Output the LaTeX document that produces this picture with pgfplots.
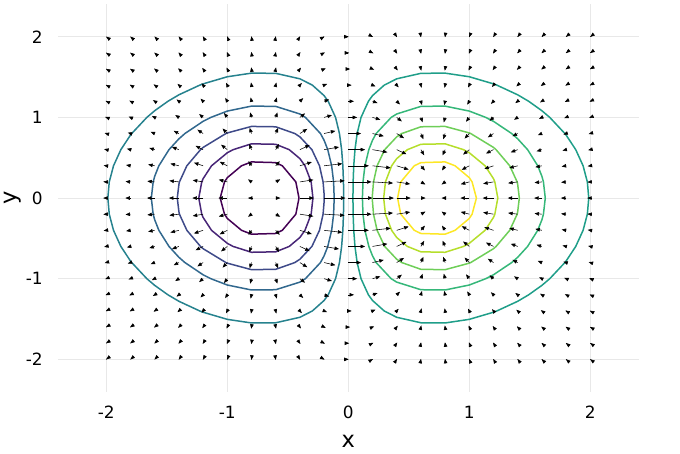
\documentclass[border=0pt]{standalone}
\usepackage{fontspec}
\setmainfont{DejaVu Sans}
\usepackage{pgfplots}
\pgfplotsset{compat=1.18}
\usetikzlibrary{arrows.meta}

% viridis, one colour per contour level
\definecolor{v0}{HTML}{440154}
\definecolor{v1}{HTML}{482677}
\definecolor{v2}{HTML}{3E4A89}
\definecolor{v3}{HTML}{31688E}
\definecolor{v4}{HTML}{26828E}
\definecolor{v5}{HTML}{1F9E89}
\definecolor{v6}{HTML}{35B779}
\definecolor{v7}{HTML}{6ECE58}
\definecolor{v8}{HTML}{B5DE2B}
\definecolor{v9}{HTML}{FDE725}

\begin{document}
\begin{tikzpicture}
\path[use as bounding box] (0,0) rectangle (680pt,453pt);
\begin{axis}[
    at={(57.9pt,61.4pt)}, anchor=south west,
    scale only axis,
    width=580.8pt, height=387.1pt,
    xmin=-2.4, xmax=2.4, ymin=-2.4, ymax=2.4,
    xtick={-2,-1,0,1,2}, ytick={-2,-1,0,1,2},
    xticklabels={-2,-1,0,1,2}, yticklabels={-2,-1,0,1,2},
    grid=major,
    grid style={draw=black!9, line width=0.6pt},
    axis line style={draw=none},
    major tick length=0pt,
    tick label style={font=\fontsize{16.9}{18}\selectfont, inner sep=0pt},
    x tick label style={anchor=north, yshift=-14.4pt},
    y tick label style={anchor=east, xshift=-15pt},
    xlabel={x}, ylabel={y},
    label style={font=\fontsize{22.5}{24}\selectfont, inner sep=0pt},
    xlabel style={at={(axis description cs:0.5,0)}, anchor=base, yshift=-55.7pt},
    ylabel style={at={([xshift=-41.2pt]axis description cs:0,0.5)}, anchor=base},
    every axis plot/.append style={line join=round},
]

% contour lines, levels -0.3451 ... 0.3451
\addplot[v0, line width=1.5pt] coordinates {
(-0.4075,0) (-0.4335,0.2) (-0.5452,0.4) (-0.6,0.4394) (-0.8,0.4481) (-0.8826,0.4) (-1,0.2528) (-1.0231,0.2) (-1.0588,0)
(-1.0231,-0.2) (-1,-0.2528) (-0.8826,-0.4) (-0.8,-0.4481) (-0.6,-0.4394) (-0.5452,-0.4) (-0.4335,-0.2) (-0.4075,0)
};
\addplot[v1, line width=1.5pt] coordinates {
(-0.2923,0) (-0.307,0.2) (-0.3581,0.4) (-0.4,0.4889) (-0.4883,0.6) (-0.6,0.6667) (-0.8,0.6724) (-0.9518,0.6) (-1,0.5615)
(-1.1304,0.4) (-1.2,0.24) (-1.2111,0.2) (-1.2357,0) (-1.2111,-0.2) (-1.2,-0.24) (-1.1304,-0.4) (-1,-0.5615) (-0.9518,-0.6)
(-0.8,-0.6724) (-0.6,-0.6667) (-0.4883,-0.6) (-0.4,-0.4889) (-0.3581,-0.4) (-0.307,-0.2) (-0.2923,0)
};
\addplot[v2, line width=1.5pt] coordinates {
(-0.1995,0) (-0.2,0.0489) (-0.2084,0.2) (-0.2381,0.4) (-0.3008,0.6) (-0.4,0.7586) (-0.442,0.8) (-0.6,0.8837) (-0.8,0.8881)
(-1,0.8074) (-1.0116,0.8) (-1.2,0.6278) (-1.2214,0.6) (-1.3342,0.4) (-1.3956,0.2) (-1.4,0.1682) (-1.4134,0)
(-1.4,-0.1682) (-1.3956,-0.2) (-1.3342,-0.4) (-1.2214,-0.6) (-1.2,-0.6278) (-1.0116,-0.8) (-1,-0.8074) (-0.8,-0.8881)
(-0.6,-0.8837) (-0.442,-0.8) (-0.4,-0.7586) (-0.3008,-0.6) (-0.2381,-0.4) (-0.2084,-0.2) (-0.2,-0.0489) (-0.1995,0)
};
\addplot[v3, line width=1.5pt] coordinates {
(-0.1166,0) (-0.1215,0.2) (-0.1375,0.4) (-0.1697,0.6) (-0.2,0.7165) (-0.23,0.8) (-0.3544,1) (-0.4,1.0424) (-0.6,1.1367)
(-0.8,1.14) (-1,1.0783) (-1.1359,1) (-1.2,0.9514) (-1.3502,0.8) (-1.4,0.7344) (-1.4819,0.6) (-1.5656,0.4) (-1.6,0.2699)
(-1.6127,0.2) (-1.6279,0) (-1.6127,-0.2) (-1.6,-0.2699) (-1.5656,-0.4) (-1.4819,-0.6) (-1.4,-0.7344) (-1.3502,-0.8)
(-1.2,-0.9514) (-1.1359,-1) (-1,-1.0783) (-0.8,-1.14) (-0.6,-1.1367) (-0.4,-1.0424) (-0.3544,-1) (-0.23,-0.8)
(-0.2,-0.7165) (-0.1697,-0.6) (-0.1375,-0.4) (-0.1215,-0.2) (-0.1166,0)
};
\addplot[v4, line width=1.5pt] coordinates {
(-0.0384,0) (-0.0399,0.2) (-0.045,0.4) (-0.0551,0.6) (-0.0731,0.8) (-0.1053,1) (-0.1662,1.2) (-0.2,1.27) (-0.297,1.4)
(-0.4,1.4785) (-0.6,1.5465) (-0.8,1.5489) (-1,1.5041) (-1.2,1.4158) (-1.2278,1.4) (-1.4,1.2801) (-1.4904,1.2)
(-1.6,1.0827) (-1.6649,1) (-1.7899,0.8) (-1.8,0.7811) (-1.8797,0.6) (-1.9404,0.4) (-1.9756,0.2) (-1.9872,0)
(-1.9756,-0.2) (-1.9404,-0.4) (-1.8797,-0.6) (-1.8,-0.7811) (-1.7899,-0.8) (-1.6649,-1) (-1.6,-1.0827) (-1.4904,-1.2)
(-1.4,-1.2801) (-1.2278,-1.4) (-1.2,-1.4158) (-1,-1.5041) (-0.8,-1.5489) (-0.6,-1.5465) (-0.4,-1.4785) (-0.297,-1.4)
(-0.2,-1.27) (-0.1662,-1.2) (-0.1053,-1) (-0.0731,-0.8) (-0.0551,-0.6) (-0.045,-0.4) (-0.0399,-0.2) (-0.0384,0)
};
\addplot[v5, line width=1.5pt] coordinates {
(0.0384,0) (0.0399,0.2) (0.045,0.4) (0.0551,0.6) (0.0731,0.8) (0.1053,1) (0.1662,1.2) (0.2,1.27) (0.297,1.4)
(0.4,1.4785) (0.6,1.5465) (0.8,1.5489) (1,1.5041) (1.2,1.4158) (1.2278,1.4) (1.4,1.2801) (1.4904,1.2)
(1.6,1.0827) (1.6649,1) (1.7899,0.8) (1.8,0.7811) (1.8797,0.6) (1.9404,0.4) (1.9756,0.2) (1.9872,0)
(1.9756,-0.2) (1.9404,-0.4) (1.8797,-0.6) (1.8,-0.7811) (1.7899,-0.8) (1.6649,-1) (1.6,-1.0827) (1.4904,-1.2)
(1.4,-1.2801) (1.2278,-1.4) (1.2,-1.4158) (1,-1.5041) (0.8,-1.5489) (0.6,-1.5465) (0.4,-1.4785) (0.297,-1.4)
(0.2,-1.27) (0.1662,-1.2) (0.1053,-1) (0.0731,-0.8) (0.0551,-0.6) (0.045,-0.4) (0.0399,-0.2) (0.0384,0)
};
\addplot[v6, line width=1.5pt] coordinates {
(0.1166,0) (0.1215,0.2) (0.1375,0.4) (0.1697,0.6) (0.2,0.7165) (0.23,0.8) (0.3544,1) (0.4,1.0424) (0.6,1.1367)
(0.8,1.14) (1,1.0783) (1.1359,1) (1.2,0.9514) (1.3502,0.8) (1.4,0.7344) (1.4819,0.6) (1.5656,0.4) (1.6,0.2699)
(1.6127,0.2) (1.6279,0) (1.6127,-0.2) (1.6,-0.2699) (1.5656,-0.4) (1.4819,-0.6) (1.4,-0.7344) (1.3502,-0.8)
(1.2,-0.9514) (1.1359,-1) (1,-1.0783) (0.8,-1.14) (0.6,-1.1367) (0.4,-1.0424) (0.3544,-1) (0.23,-0.8)
(0.2,-0.7165) (0.1697,-0.6) (0.1375,-0.4) (0.1215,-0.2) (0.1166,0)
};
\addplot[v7, line width=1.5pt] coordinates {
(0.1995,0) (0.2,0.0489) (0.2084,0.2) (0.2381,0.4) (0.3008,0.6) (0.4,0.7586) (0.442,0.8) (0.6,0.8837) (0.8,0.8881)
(1,0.8074) (1.0116,0.8) (1.2,0.6278) (1.2214,0.6) (1.3342,0.4) (1.3956,0.2) (1.4,0.1682) (1.4134,0)
(1.4,-0.1682) (1.3956,-0.2) (1.3342,-0.4) (1.2214,-0.6) (1.2,-0.6278) (1.0116,-0.8) (1,-0.8074) (0.8,-0.8881)
(0.6,-0.8837) (0.442,-0.8) (0.4,-0.7586) (0.3008,-0.6) (0.2381,-0.4) (0.2084,-0.2) (0.2,-0.0489) (0.1995,0)
};
\addplot[v8, line width=1.5pt] coordinates {
(0.2923,0) (0.307,0.2) (0.3581,0.4) (0.4,0.4889) (0.4883,0.6) (0.6,0.6667) (0.8,0.6724) (0.9518,0.6) (1,0.5615)
(1.1304,0.4) (1.2,0.24) (1.2111,0.2) (1.2357,0) (1.2111,-0.2) (1.2,-0.24) (1.1304,-0.4) (1,-0.5615) (0.9518,-0.6)
(0.8,-0.6724) (0.6,-0.6667) (0.4883,-0.6) (0.4,-0.4889) (0.3581,-0.4) (0.307,-0.2) (0.2923,0)
};
\addplot[v9, line width=1.5pt] coordinates {
(0.4075,0) (0.4335,0.2) (0.5452,0.4) (0.6,0.4394) (0.8,0.4481) (0.8826,0.4) (1,0.2528) (1.0231,0.2) (1.0588,0)
(1.0231,-0.2) (1,-0.2528) (0.8826,-0.4) (0.8,-0.4481) (0.6,-0.4394) (0.5452,-0.4) (0.4335,-0.2) (0.4075,0)
};

% gradient arrows on the 21 x 21 grid
\addplot[black, line width=0.55pt, -{Triangle[length=4.5pt,width=3.5pt]},
    quiver={u=\thisrow{u}, v=\thisrow{v}}] table {
x y u v
-2 2 -0.0004697 0.0005366
-1.8 2 -0.0007863 0.001033
-1.6 2 -0.001167 0.001812
-1.4 2 -0.001507 0.002889
-1.2 2 -0.001632 0.004165
-1 2 -0.001348 0.005392
-0.8 2 -0.000541 0.006179
-0.6 2 0.0007158 0.006132
-0.4 2 0.002123 0.004993
-0.2 2 0.003239 0.002815
0 2 0.003664 0
0.2 2 0.003239 -0.002815
0.4 2 0.002123 -0.004993
0.6 2 0.0007158 -0.006132
0.8 2 -0.000541 -0.006179
1 2 -0.001348 -0.005392
1.2 2 -0.001632 -0.004165
1.4 2 -0.001507 -0.002889
1.6 2 -0.001167 -0.001812
1.8 2 -0.0007863 -0.001033
2 2 -0.0004697 -0.0005366
-2 1.8 -0.001004 0.001033
-1.8 1.8 -0.001681 0.001988
-1.6 1.8 -0.002494 0.003488
-1.4 1.8 -0.003221 0.005561
-1.2 1.8 -0.003489 0.008016
-1 1.8 -0.002881 0.01038
-0.8 1.8 -0.001156 0.01189
-0.6 1.8 0.00153 0.0118
-0.4 1.8 0.004539 0.009609
-0.2 1.8 0.006923 0.005419
0 1.8 0.007832 0
0.2 1.8 0.006923 -0.005419
0.4 1.8 0.004539 -0.009609
0.6 1.8 0.00153 -0.0118
0.8 1.8 -0.001156 -0.01189
1 1.8 -0.002881 -0.01038
1.2 1.8 -0.003489 -0.008016
1.4 1.8 -0.003221 -0.005561
1.6 1.8 -0.002494 -0.003488
1.8 1.8 -0.001681 -0.001988
2 1.8 -0.001004 -0.001033
-2 1.6 -0.001982 0.001812
-1.8 1.6 -0.003318 0.003488
-1.6 1.6 -0.004924 0.006121
-1.4 1.6 -0.006359 0.009757
-1.2 1.6 -0.006887 0.01406
-1 1.6 -0.005688 0.01821
-0.8 1.6 -0.002283 0.02087
-0.6 1.6 0.00302 0.02071
-0.4 1.6 0.008959 0.01686
-0.2 1.6 0.01367 0.009508
0 1.6 0.01546 0
0.2 1.6 0.01367 -0.009508
0.4 1.6 0.008959 -0.01686
0.6 1.6 0.00302 -0.02071
0.8 1.6 -0.002283 -0.02087
1 1.6 -0.005688 -0.01821
1.2 1.6 -0.006887 -0.01406
1.4 1.6 -0.006359 -0.009757
1.6 1.6 -0.004924 -0.006121
1.8 1.6 -0.003318 -0.003488
2 1.6 -0.001982 -0.001812
-2 1.4 -0.003613 0.002889
-1.8 1.4 -0.006047 0.005561
-1.6 1.4 -0.008975 0.009757
-1.4 1.4 -0.01159 0.01556
-1.2 1.4 -0.01255 0.02242
-1 1.4 -0.01037 0.02903
-0.8 1.4 -0.004161 0.03327
-0.6 1.4 0.005505 0.03301
-0.4 1.4 0.01633 0.02688
-0.2 1.4 0.02491 0.01516
0 1.4 0.02818 0
0.2 1.4 0.02491 -0.01516
0.4 1.4 0.01633 -0.02688
0.6 1.4 0.005505 -0.03301
0.8 1.4 -0.004161 -0.03327
1 1.4 -0.01037 -0.02903
1.2 1.4 -0.01255 -0.02242
1.4 1.4 -0.01159 -0.01556
1.6 1.4 -0.008975 -0.009757
1.8 1.4 -0.006047 -0.005561
2 1.4 -0.003613 -0.002889
-2 1.2 -0.006074 0.004165
-1.8 1.2 -0.01017 0.008016
-1.6 1.2 -0.01509 0.01406
-1.4 1.2 -0.01949 0.02242
-1.2 1.2 -0.02111 0.03233
-1 1.2 -0.01743 0.04185
-0.8 1.2 -0.006996 0.04796
-0.6 1.2 0.009256 0.04759
-0.4 1.2 0.02746 0.03875
-0.2 1.2 0.04188 0.02185
0 1.2 0.04738 0
0.2 1.2 0.04188 -0.02185
0.4 1.2 0.02746 -0.03875
0.6 1.2 0.009256 -0.04759
0.8 1.2 -0.006996 -0.04796
1 1.2 -0.01743 -0.04185
1.2 1.2 -0.02111 -0.03233
1.4 1.2 -0.01949 -0.02242
1.6 1.2 -0.01509 -0.01406
1.8 1.2 -0.01017 -0.008016
2 1.2 -0.006074 -0.004165
-2 1 -0.009433 0.005392
-1.8 1 -0.01579 0.01038
-1.6 1 -0.02344 0.01821
-1.4 1 -0.03026 0.02903
-1.2 1 -0.03278 0.04185
-1 1 -0.02707 0.05415
-0.8 1 -0.01086 0.06206
-0.6 1 0.01437 0.06159
-0.4 1 0.04264 0.05015
-0.2 1 0.06504 0.02828
0 1 0.07358 0
0.2 1 0.06504 -0.02828
0.4 1 0.04264 -0.05015
0.6 1 0.01437 -0.06159
0.8 1 -0.01086 -0.06206
1 1 -0.02707 -0.05415
1.2 1 -0.03278 -0.04185
1.4 1 -0.03026 -0.02903
1.6 1 -0.02344 -0.01821
1.8 1 -0.01579 -0.01038
2 1 -0.009433 -0.005392
-2 0.8 -0.01352 0.006179
-1.8 0.8 -0.02263 0.01189
-1.6 0.8 -0.03359 0.02087
-1.4 0.8 -0.04338 0.03327
-1.2 0.8 -0.04698 0.04796
-1 0.8 -0.0388 0.06206
-0.8 0.8 -0.01557 0.07116
-0.6 0.8 0.0206 0.07061
-0.4 0.8 0.06111 0.05749
-0.2 0.8 0.09323 0.03242
0 0.8 0.1055 0
0.2 0.8 0.09323 -0.03242
0.4 0.8 0.06111 -0.05749
0.6 0.8 0.0206 -0.07061
0.8 0.8 -0.01557 -0.07116
1 0.8 -0.0388 -0.06206
1.2 0.8 -0.04698 -0.04796
1.4 0.8 -0.04338 -0.03327
1.6 0.8 -0.03359 -0.02087
1.8 0.8 -0.02263 -0.01189
2 0.8 -0.01352 -0.006179
-2 0.6 -0.01789 0.006132
-1.8 0.6 -0.02995 0.0118
-1.6 0.6 -0.04444 0.02071
-1.4 0.6 -0.05739 0.03301
-1.2 0.6 -0.06216 0.04759
-1 0.6 -0.05134 0.06159
-0.8 0.6 -0.0206 0.07061
-0.6 0.6 0.02726 0.07007
-0.4 0.6 0.08086 0.05706
-0.2 0.6 0.1234 0.03217
0 0.6 0.1395 0
0.2 0.6 0.1234 -0.03217
0.4 0.6 0.08086 -0.05706
0.6 0.6 0.02726 -0.07007
0.8 0.6 -0.0206 -0.07061
1 0.6 -0.05134 -0.06159
1.2 0.6 -0.06216 -0.04759
1.4 0.6 -0.05739 -0.03301
1.6 0.6 -0.04444 -0.02071
1.8 0.6 -0.02995 -0.0118
2 0.6 -0.01789 -0.006132
-2 0.4 -0.02185 0.004993
-1.8 0.4 -0.03657 0.009609
-1.6 0.4 -0.05428 0.01686
-1.4 0.4 -0.07009 0.02688
-1.2 0.4 -0.07591 0.03875
-1 0.4 -0.0627 0.05015
-0.8 0.4 -0.02516 0.05749
-0.6 0.4 0.03329 0.05706
-0.4 0.4 0.09876 0.04646
-0.2 0.4 0.1507 0.0262
0 0.4 0.1704 0
0.2 0.4 0.1507 -0.0262
0.4 0.4 0.09876 -0.04646
0.6 0.4 0.03329 -0.05706
0.8 0.4 -0.02516 -0.05749
1 0.4 -0.0627 -0.05015
1.2 0.4 -0.07591 -0.03875
1.4 0.4 -0.07009 -0.02688
1.6 0.4 -0.05428 -0.01686
1.8 0.4 -0.03657 -0.009609
2 0.4 -0.02185 -0.004993
-2 0.2 -0.02464 0.002815
-1.8 0.2 -0.04124 0.005419
-1.6 0.2 -0.0612 0.009508
-1.4 0.2 -0.07904 0.01516
-1.2 0.2 -0.0856 0.02185
-1 0.2 -0.0707 0.02828
-0.8 0.2 -0.02837 0.03242
-0.6 0.2 0.03754 0.03217
-0.4 0.2 0.1114 0.0262
-0.2 0.2 0.1699 0.01477
0 0.2 0.1922 0
0.2 0.2 0.1699 -0.01477
0.4 0.2 0.1114 -0.0262
0.6 0.2 0.03754 -0.03217
0.8 0.2 -0.02837 -0.03242
1 0.2 -0.0707 -0.02828
1.2 0.2 -0.0856 -0.02185
1.4 0.2 -0.07904 -0.01516
1.6 0.2 -0.0612 -0.009508
1.8 0.2 -0.04124 -0.005419
2 0.2 -0.02464 -0.002815
-2 0 -0.02564 0
-1.8 0 -0.04292 0
-1.6 0 -0.0637 0
-1.4 0 -0.08226 0
-1.2 0 -0.08909 0
-1 0 -0.07358 0
-0.8 0 -0.02953 0
-0.6 0 0.03907 0
-0.4 0 0.1159 0
-0.2 0 0.1768 0
0 0 0.2 0
0.2 0 0.1768 0
0.4 0 0.1159 0
0.6 0 0.03907 0
0.8 0 -0.02953 0
1 0 -0.07358 0
1.2 0 -0.08909 0
1.4 0 -0.08226 0
1.6 0 -0.0637 0
1.8 0 -0.04292 0
2 0 -0.02564 0
-2 -0.2 -0.02464 -0.002815
-1.8 -0.2 -0.04124 -0.005419
-1.6 -0.2 -0.0612 -0.009508
-1.4 -0.2 -0.07904 -0.01516
-1.2 -0.2 -0.0856 -0.02185
-1 -0.2 -0.0707 -0.02828
-0.8 -0.2 -0.02837 -0.03242
-0.6 -0.2 0.03754 -0.03217
-0.4 -0.2 0.1114 -0.0262
-0.2 -0.2 0.1699 -0.01477
0 -0.2 0.1922 0
0.2 -0.2 0.1699 0.01477
0.4 -0.2 0.1114 0.0262
0.6 -0.2 0.03754 0.03217
0.8 -0.2 -0.02837 0.03242
1 -0.2 -0.0707 0.02828
1.2 -0.2 -0.0856 0.02185
1.4 -0.2 -0.07904 0.01516
1.6 -0.2 -0.0612 0.009508
1.8 -0.2 -0.04124 0.005419
2 -0.2 -0.02464 0.002815
-2 -0.4 -0.02185 -0.004993
-1.8 -0.4 -0.03657 -0.009609
-1.6 -0.4 -0.05428 -0.01686
-1.4 -0.4 -0.07009 -0.02688
-1.2 -0.4 -0.07591 -0.03875
-1 -0.4 -0.0627 -0.05015
-0.8 -0.4 -0.02516 -0.05749
-0.6 -0.4 0.03329 -0.05706
-0.4 -0.4 0.09876 -0.04646
-0.2 -0.4 0.1507 -0.0262
0 -0.4 0.1704 0
0.2 -0.4 0.1507 0.0262
0.4 -0.4 0.09876 0.04646
0.6 -0.4 0.03329 0.05706
0.8 -0.4 -0.02516 0.05749
1 -0.4 -0.0627 0.05015
1.2 -0.4 -0.07591 0.03875
1.4 -0.4 -0.07009 0.02688
1.6 -0.4 -0.05428 0.01686
1.8 -0.4 -0.03657 0.009609
2 -0.4 -0.02185 0.004993
-2 -0.6 -0.01789 -0.006132
-1.8 -0.6 -0.02995 -0.0118
-1.6 -0.6 -0.04444 -0.02071
-1.4 -0.6 -0.05739 -0.03301
-1.2 -0.6 -0.06216 -0.04759
-1 -0.6 -0.05134 -0.06159
-0.8 -0.6 -0.0206 -0.07061
-0.6 -0.6 0.02726 -0.07007
-0.4 -0.6 0.08086 -0.05706
-0.2 -0.6 0.1234 -0.03217
0 -0.6 0.1395 0
0.2 -0.6 0.1234 0.03217
0.4 -0.6 0.08086 0.05706
0.6 -0.6 0.02726 0.07007
0.8 -0.6 -0.0206 0.07061
1 -0.6 -0.05134 0.06159
1.2 -0.6 -0.06216 0.04759
1.4 -0.6 -0.05739 0.03301
1.6 -0.6 -0.04444 0.02071
1.8 -0.6 -0.02995 0.0118
2 -0.6 -0.01789 0.006132
-2 -0.8 -0.01352 -0.006179
-1.8 -0.8 -0.02263 -0.01189
-1.6 -0.8 -0.03359 -0.02087
-1.4 -0.8 -0.04338 -0.03327
-1.2 -0.8 -0.04698 -0.04796
-1 -0.8 -0.0388 -0.06206
-0.8 -0.8 -0.01557 -0.07116
-0.6 -0.8 0.0206 -0.07061
-0.4 -0.8 0.06111 -0.05749
-0.2 -0.8 0.09323 -0.03242
0 -0.8 0.1055 0
0.2 -0.8 0.09323 0.03242
0.4 -0.8 0.06111 0.05749
0.6 -0.8 0.0206 0.07061
0.8 -0.8 -0.01557 0.07116
1 -0.8 -0.0388 0.06206
1.2 -0.8 -0.04698 0.04796
1.4 -0.8 -0.04338 0.03327
1.6 -0.8 -0.03359 0.02087
1.8 -0.8 -0.02263 0.01189
2 -0.8 -0.01352 0.006179
-2 -1 -0.009433 -0.005392
-1.8 -1 -0.01579 -0.01038
-1.6 -1 -0.02344 -0.01821
-1.4 -1 -0.03026 -0.02903
-1.2 -1 -0.03278 -0.04185
-1 -1 -0.02707 -0.05415
-0.8 -1 -0.01086 -0.06206
-0.6 -1 0.01437 -0.06159
-0.4 -1 0.04264 -0.05015
-0.2 -1 0.06504 -0.02828
0 -1 0.07358 0
0.2 -1 0.06504 0.02828
0.4 -1 0.04264 0.05015
0.6 -1 0.01437 0.06159
0.8 -1 -0.01086 0.06206
1 -1 -0.02707 0.05415
1.2 -1 -0.03278 0.04185
1.4 -1 -0.03026 0.02903
1.6 -1 -0.02344 0.01821
1.8 -1 -0.01579 0.01038
2 -1 -0.009433 0.005392
-2 -1.2 -0.006074 -0.004165
-1.8 -1.2 -0.01017 -0.008016
-1.6 -1.2 -0.01509 -0.01406
-1.4 -1.2 -0.01949 -0.02242
-1.2 -1.2 -0.02111 -0.03233
-1 -1.2 -0.01743 -0.04185
-0.8 -1.2 -0.006996 -0.04796
-0.6 -1.2 0.009256 -0.04759
-0.4 -1.2 0.02746 -0.03875
-0.2 -1.2 0.04188 -0.02185
0 -1.2 0.04738 0
0.2 -1.2 0.04188 0.02185
0.4 -1.2 0.02746 0.03875
0.6 -1.2 0.009256 0.04759
0.8 -1.2 -0.006996 0.04796
1 -1.2 -0.01743 0.04185
1.2 -1.2 -0.02111 0.03233
1.4 -1.2 -0.01949 0.02242
1.6 -1.2 -0.01509 0.01406
1.8 -1.2 -0.01017 0.008016
2 -1.2 -0.006074 0.004165
-2 -1.4 -0.003613 -0.002889
-1.8 -1.4 -0.006047 -0.005561
-1.6 -1.4 -0.008975 -0.009757
-1.4 -1.4 -0.01159 -0.01556
-1.2 -1.4 -0.01255 -0.02242
-1 -1.4 -0.01037 -0.02903
-0.8 -1.4 -0.004161 -0.03327
-0.6 -1.4 0.005505 -0.03301
-0.4 -1.4 0.01633 -0.02688
-0.2 -1.4 0.02491 -0.01516
0 -1.4 0.02818 0
0.2 -1.4 0.02491 0.01516
0.4 -1.4 0.01633 0.02688
0.6 -1.4 0.005505 0.03301
0.8 -1.4 -0.004161 0.03327
1 -1.4 -0.01037 0.02903
1.2 -1.4 -0.01255 0.02242
1.4 -1.4 -0.01159 0.01556
1.6 -1.4 -0.008975 0.009757
1.8 -1.4 -0.006047 0.005561
2 -1.4 -0.003613 0.002889
-2 -1.6 -0.001982 -0.001812
-1.8 -1.6 -0.003318 -0.003488
-1.6 -1.6 -0.004924 -0.006121
-1.4 -1.6 -0.006359 -0.009757
-1.2 -1.6 -0.006887 -0.01406
-1 -1.6 -0.005688 -0.01821
-0.8 -1.6 -0.002283 -0.02087
-0.6 -1.6 0.00302 -0.02071
-0.4 -1.6 0.008959 -0.01686
-0.2 -1.6 0.01367 -0.009508
0 -1.6 0.01546 0
0.2 -1.6 0.01367 0.009508
0.4 -1.6 0.008959 0.01686
0.6 -1.6 0.00302 0.02071
0.8 -1.6 -0.002283 0.02087
1 -1.6 -0.005688 0.01821
1.2 -1.6 -0.006887 0.01406
1.4 -1.6 -0.006359 0.009757
1.6 -1.6 -0.004924 0.006121
1.8 -1.6 -0.003318 0.003488
2 -1.6 -0.001982 0.001812
-2 -1.8 -0.001004 -0.001033
-1.8 -1.8 -0.001681 -0.001988
-1.6 -1.8 -0.002494 -0.003488
-1.4 -1.8 -0.003221 -0.005561
-1.2 -1.8 -0.003489 -0.008016
-1 -1.8 -0.002881 -0.01038
-0.8 -1.8 -0.001156 -0.01189
-0.6 -1.8 0.00153 -0.0118
-0.4 -1.8 0.004539 -0.009609
-0.2 -1.8 0.006923 -0.005419
0 -1.8 0.007832 0
0.2 -1.8 0.006923 0.005419
0.4 -1.8 0.004539 0.009609
0.6 -1.8 0.00153 0.0118
0.8 -1.8 -0.001156 0.01189
1 -1.8 -0.002881 0.01038
1.2 -1.8 -0.003489 0.008016
1.4 -1.8 -0.003221 0.005561
1.6 -1.8 -0.002494 0.003488
1.8 -1.8 -0.001681 0.001988
2 -1.8 -0.001004 0.001033
-2 -2 -0.0004697 -0.0005366
-1.8 -2 -0.0007863 -0.001033
-1.6 -2 -0.001167 -0.001812
-1.4 -2 -0.001507 -0.002889
-1.2 -2 -0.001632 -0.004165
-1 -2 -0.001348 -0.005392
-0.8 -2 -0.000541 -0.006179
-0.6 -2 0.0007158 -0.006132
-0.4 -2 0.002123 -0.004993
-0.2 -2 0.003239 -0.002815
0 -2 0.003664 0
0.2 -2 0.003239 0.002815
0.4 -2 0.002123 0.004993
0.6 -2 0.0007158 0.006132
0.8 -2 -0.000541 0.006179
1 -2 -0.001348 0.005392
1.2 -2 -0.001632 0.004165
1.4 -2 -0.001507 0.002889
1.6 -2 -0.001167 0.001812
1.8 -2 -0.0007863 0.001033
2 -2 -0.0004697 0.0005366
};
\end{axis}
\end{tikzpicture}
\end{document}
